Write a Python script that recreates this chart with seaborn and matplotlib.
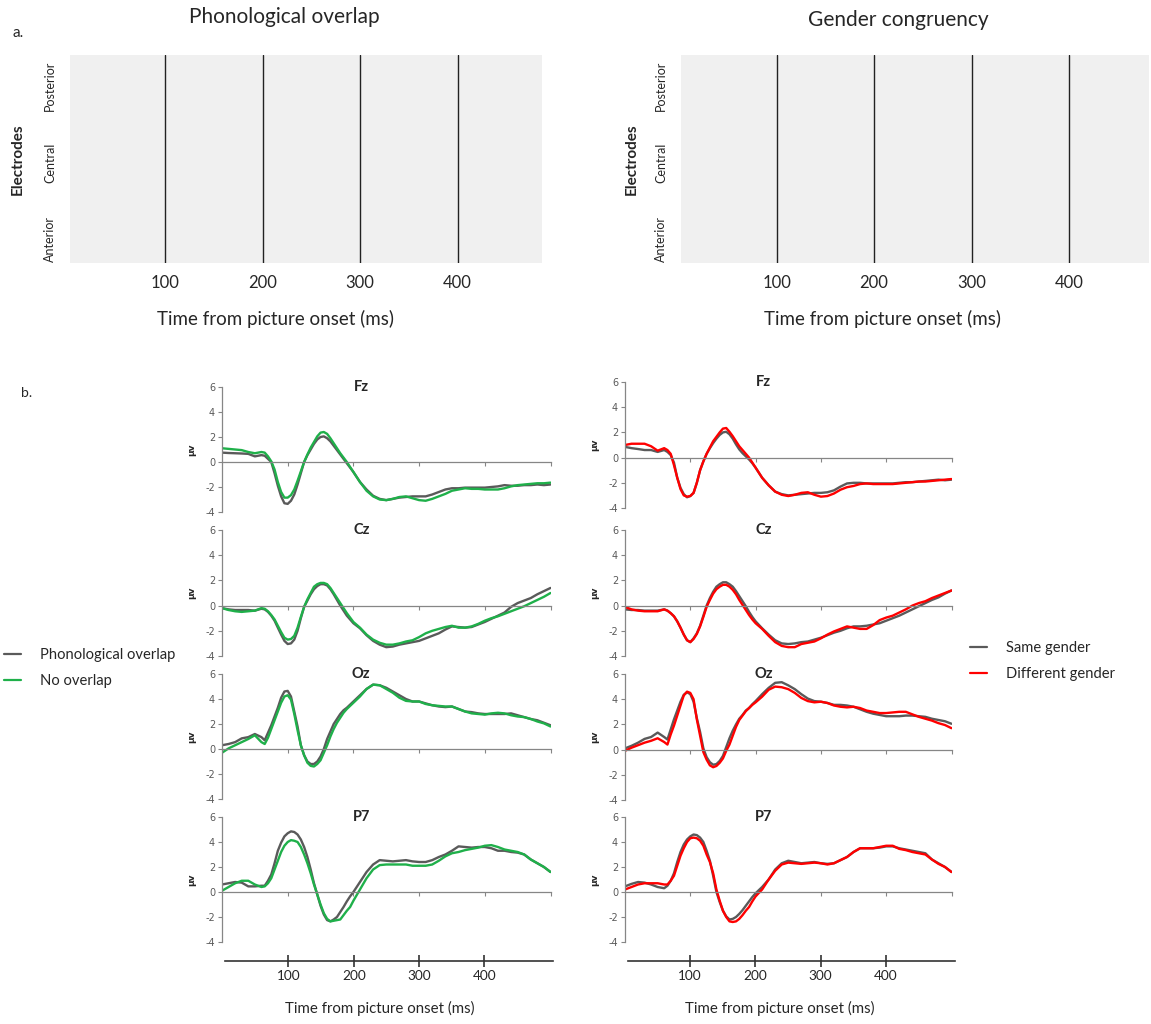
import seaborn as sns
import matplotlib.pyplot as plt
import pandas as pd
from matplotlib.lines import Line2D

# --- datos -------------------------------------------------------------
# cada 10 ms, y cada 5 ms entre 60 y 200 ms (donde la onda cambia rapido)
time_ms = list(range(0, 60, 10)) + list(range(60, 201, 5)) + list(range(210, 501, 10))
window_ticks = [100, 200, 300, 400]
regions = ["Anterior", "Central", "Posterior"]
electrodes = ["Fz", "Cz", "Oz", "P7"]

phon_labels = ["Phonological overlap", "No overlap"]
gender_labels = ["Same gender", "Different gender"]

# overlap fonologico (izquierda)
fz_phon = [0.75, 0.72, 0.7, 0.68, 0.65, 0.45,
           0.55, 0.5, 0.25, 0.0, -0.9, -1.9, -2.75, -3.3, -3.35, -3.1, -2.6, -1.8, -0.9, 0.0, 0.55, 1.0, 1.45, 1.8,
           2.0, 2.05, 1.9, 1.65, 1.3, 0.95, 0.6, 0.25, -0.1, -0.45, -0.8,
           -1.6, -2.2, -2.7, -2.95, -3.05, -2.95, -2.85, -2.8, -2.75, -2.75, -2.75, -2.6, -2.4, -2.2, -2.1, -2.1,
           -2.05, -2.05, -2.05, -2.05, -2.0, -1.95, -1.85, -1.9, -1.9, -1.85, -1.85, -1.8, -1.85, -1.8]
fz_noov = [1.1, 1.05, 1.0, 0.95, 0.8, 0.7,
           0.8, 0.75, 0.45, 0.05, -0.6, -1.6, -2.4, -2.85, -2.85, -2.65, -2.2, -1.5, -0.75, 0.0, 0.6, 1.15, 1.6, 2.05,
           2.35, 2.4, 2.25, 1.9, 1.5, 1.1, 0.7, 0.35, 0.0, -0.4, -0.8,
           -1.6, -2.3, -2.75, -3.0, -3.05, -2.95, -2.8, -2.75, -2.9, -3.05, -3.1, -2.95, -2.75, -2.55, -2.3, -2.2,
           -2.1, -2.15, -2.15, -2.2, -2.2, -2.2, -2.1, -1.95, -1.85, -1.8, -1.75, -1.7, -1.7, -1.65]
cz_phon = [-0.2, -0.3, -0.35, -0.35, -0.35, -0.4,
           -0.25, -0.3, -0.5, -0.8, -1.2, -1.75, -2.3, -2.8, -3.05, -3.0, -2.7, -2.0, -1.0, -0.1, 0.4, 0.9, 1.3, 1.55,
           1.7, 1.7, 1.6, 1.3, 0.9, 0.45, 0.0, -0.4, -0.8, -1.1, -1.4,
           -1.8, -2.35, -2.8, -3.1, -3.3, -3.25, -3.1, -3.0, -2.9, -2.8, -2.6, -2.4, -2.2, -1.9, -1.65, -1.7, -1.75,
           -1.7, -1.5, -1.3, -1.05, -0.8, -0.55, -0.1, 0.2, 0.4, 0.6, 0.9, 1.15, 1.4]
cz_noov = [-0.2, -0.35, -0.45, -0.5, -0.45, -0.4,
           -0.2, -0.25, -0.45, -0.75, -1.1, -1.6, -2.1, -2.55, -2.7, -2.65, -2.4, -1.75, -0.9, -0.1, 0.5, 1.0, 1.5, 1.7,
           1.8, 1.8, 1.7, 1.4, 1.0, 0.6, 0.2, -0.2, -0.6, -0.95, -1.3,
           -1.75, -2.3, -2.7, -2.95, -3.1, -3.1, -3.0, -2.85, -2.75, -2.5, -2.2, -2.0, -1.85, -1.7, -1.6, -1.75, -1.75,
           -1.65, -1.45, -1.2, -1.0, -0.85, -0.65, -0.45, -0.25, -0.05, 0.2, 0.45, 0.7, 1.0]
oz_phon = [0.3, 0.4, 0.55, 0.85, 0.95, 1.2,
           0.95, 0.7, 1.3, 1.9, 2.6, 3.3, 4.1, 4.6, 4.65, 4.2, 3.0, 1.8, 0.3, -0.5, -1.0, -1.2, -1.2, -1.0, -0.6, 0.0,
           0.8, 1.4, 2.0, 2.4, 2.8, 3.1, 3.3, 3.55, 3.8,
           4.3, 4.8, 5.15, 5.1, 4.9, 4.6, 4.3, 4.0, 3.8, 3.8, 3.65, 3.5, 3.4, 3.35, 3.4, 3.2, 3.0, 2.95, 2.85, 2.8,
           2.8, 2.8, 2.8, 2.85, 2.7, 2.55, 2.4, 2.3, 2.1, 1.9]
oz_noov = [-0.3, 0.05, 0.3, 0.55, 0.8, 1.1,
           0.55, 0.4, 0.9, 1.6, 2.3, 3.0, 3.7, 4.2, 4.3, 3.95, 2.8, 1.5, 0.3, -0.5, -1.1, -1.35, -1.4, -1.2, -0.9,
           -0.3, 0.3, 1.0, 1.6, 2.1, 2.5, 2.9, 3.2, 3.45, 3.7,
           4.2, 4.8, 5.15, 5.1, 4.8, 4.5, 4.1, 3.85, 3.8, 3.8, 3.6, 3.5, 3.45, 3.4, 3.4, 3.2, 3.0, 2.85, 2.8, 2.75,
           2.85, 2.9, 2.85, 2.7, 2.6, 2.55, 2.4, 2.2, 2.05, 1.8]
p7_phon = [0.6, 0.7, 0.8, 0.75, 0.45, 0.45,
           0.5, 0.5, 0.9, 1.4, 2.3, 3.3, 3.95, 4.45, 4.7, 4.85, 4.8, 4.6, 4.2, 3.6, 2.8, 1.8, 0.7, -0.2, -1.1, -1.8,
           -2.25, -2.35, -2.2, -2.0, -1.6, -1.2, -0.75, -0.35, 0.0,
           0.8, 1.6, 2.2, 2.55, 2.5, 2.45, 2.5, 2.55, 2.45, 2.4, 2.4, 2.55, 2.8, 3.0, 3.3, 3.65, 3.6, 3.55, 3.6, 3.6,
           3.5, 3.3, 3.3, 3.2, 3.15, 3.0, 2.6, 2.3, 2.0, 1.6]
p7_noov = [0.1, 0.4, 0.7, 0.9, 0.9, 0.6,
           0.4, 0.45, 0.7, 1.1, 1.8, 2.5, 3.2, 3.7, 4.0, 4.15, 4.1, 4.0, 3.6, 3.0, 2.3, 1.5, 0.6, -0.2, -1.0, -1.7,
           -2.15, -2.35, -2.3, -2.25, -2.2, -1.85, -1.5, -1.2, -0.7,
           0.2, 1.1, 1.8, 2.15, 2.2, 2.2, 2.2, 2.2, 2.1, 2.1, 2.1, 2.2, 2.5, 2.85, 3.1, 3.2, 3.35, 3.45, 3.55, 3.7,
           3.75, 3.6, 3.4, 3.3, 3.2, 3.0, 2.6, 2.3, 2.0, 1.6]

# congruencia de genero (derecha)
fz_same = [0.85, 0.75, 0.68, 0.6, 0.6, 0.45,
           0.6, 0.45, 0.2, -0.4, -1.6, -2.4, -2.9, -3.15, -3.05, -2.8, -2.0, -1.0, -0.3, 0.3, 0.75, 1.15, 1.5, 1.8,
           2.0, 2.05, 1.85, 1.5, 1.05, 0.65, 0.35, 0.1, -0.15, -0.45, -0.8,
           -1.6, -2.2, -2.7, -2.9, -3.0, -2.95, -2.9, -2.85, -2.8, -2.8, -2.75, -2.6, -2.3, -2.05, -2.0, -2.0, -2.05,
           -2.05, -2.05, -2.05, -2.05, -2.0, -1.95, -1.95, -1.9, -1.85, -1.8, -1.75, -1.8, -1.75]
fz_diff = [1.0, 1.1, 1.1, 1.1, 0.9, 0.55,
           0.75, 0.6, 0.3, -0.6, -1.6, -2.5, -3.0, -3.1, -3.05, -2.8, -2.0, -1.0, -0.3, 0.3, 0.8, 1.3, 1.65, 2.0,
           2.3, 2.35, 2.05, 1.7, 1.3, 0.9, 0.6, 0.3, 0.0, -0.4, -0.8,
           -1.6, -2.2, -2.7, -2.95, -3.05, -2.95, -2.8, -2.75, -2.95, -3.1, -3.05, -2.85, -2.55, -2.35, -2.25, -2.1,
           -2.05, -2.1, -2.1, -2.1, -2.1, -2.05, -2.0, -1.95, -1.9, -1.9, -1.85, -1.8, -1.75, -1.7]
cz_same = [-0.3, -0.35, -0.35, -0.4, -0.4, -0.4,
           -0.3, -0.4, -0.6, -0.85, -1.25, -1.75, -2.3, -2.75, -2.9, -2.6, -2.2, -1.6, -0.8, 0.0, 0.6, 1.1, 1.5, 1.7,
           1.85, 1.85, 1.7, 1.5, 1.15, 0.75, 0.35, -0.05, -0.5, -0.9, -1.25,
           -1.8, -2.3, -2.75, -3.0, -3.05, -3.0, -2.9, -2.85, -2.7, -2.55, -2.35, -2.15, -2.0, -1.8, -1.65, -1.65,
           -1.6, -1.5, -1.4, -1.2, -1.0, -0.8, -0.55, -0.3, -0.05, 0.2, 0.45, 0.65, 0.95, 1.2]
cz_diff = [-0.1, -0.3, -0.4, -0.45, -0.45, -0.45,
           -0.3, -0.4, -0.6, -0.85, -1.25, -1.75, -2.3, -2.75, -2.9, -2.65, -2.25, -1.65, -0.9, -0.1, 0.45, 0.95, 1.3,
           1.5, 1.65, 1.65, 1.5, 1.25, 0.9, 0.45, 0.05, -0.35, -0.75, -1.1, -1.4,
           -1.85, -2.4, -2.9, -3.2, -3.3, -3.3, -3.05, -2.95, -2.85, -2.6, -2.3, -2.05, -1.85, -1.65, -1.75, -1.85,
           -1.85, -1.55, -1.15, -0.95, -0.8, -0.55, -0.3, 0.0, 0.2, 0.35, 0.6, 0.8, 1.0, 1.2]
oz_same = [0.1, 0.3, 0.55, 0.85, 1.0, 1.35,
           1.0, 0.8, 1.6, 2.4, 3.1, 3.8, 4.35, 4.55, 4.4, 3.8, 2.5, 1.4, 0.1, -0.6, -1.0, -1.2, -1.15, -0.9, -0.5,
           0.2, 0.9, 1.5, 2.0, 2.45, 2.75, 3.1, 3.3, 3.6, 3.85,
           4.4, 4.9, 5.3, 5.35, 5.1, 4.8, 4.4, 4.05, 3.85, 3.8, 3.7, 3.55, 3.55, 3.5, 3.4, 3.2, 3.0, 2.85, 2.75, 2.65,
           2.65, 2.65, 2.7, 2.7, 2.65, 2.6, 2.45, 2.35, 2.25, 2.05]
oz_diff = [-0.1, 0.15, 0.35, 0.55, 0.7, 0.9,
           0.6, 0.4, 1.2, 1.9, 2.7, 3.5, 4.3, 4.6, 4.5, 4.0, 2.4, 1.1, -0.2, -0.8, -1.25, -1.4, -1.3, -1.05, -0.7,
           -0.1, 0.4, 1.1, 1.8, 2.35, 2.7, 3.05, 3.3, 3.55, 3.75,
           4.2, 4.75, 5.0, 4.95, 4.8, 4.5, 4.1, 3.85, 3.75, 3.8, 3.7, 3.5, 3.4, 3.35, 3.4, 3.3, 3.1, 3.0, 2.9, 2.9,
           2.95, 3.0, 3.0, 2.8, 2.6, 2.45, 2.3, 2.1, 1.95, 1.7]
p7_same = [0.45, 0.65, 0.8, 0.75, 0.6, 0.4,
           0.3, 0.5, 0.9, 1.5, 2.4, 3.2, 3.8, 4.2, 4.45, 4.6, 4.55, 4.35, 4.0, 3.3, 2.5, 1.3, 0.0, -0.8, -1.5, -1.95,
           -2.2, -2.15, -2.0, -1.75, -1.45, -1.1, -0.75, -0.4, -0.1,
           0.4, 1.0, 1.8, 2.3, 2.5, 2.4, 2.3, 2.35, 2.4, 2.3, 2.25, 2.3, 2.55, 2.8, 3.2, 3.5, 3.5, 3.5, 3.55, 3.65,
           3.65, 3.5, 3.4, 3.3, 3.2, 3.1, 2.6, 2.3, 2.0, 1.6]
p7_diff = [0.2, 0.4, 0.6, 0.7, 0.7, 0.7,
           0.6, 0.6, 0.9, 1.3, 2.1, 2.9, 3.5, 4.0, 4.3, 4.35, 4.3, 4.1, 3.7, 3.0, 2.4, 1.5, 0.2, -0.7, -1.5, -2.0,
           -2.35, -2.4, -2.35, -2.15, -1.85, -1.5, -1.2, -0.75, -0.35,
           0.2, 1.0, 1.7, 2.2, 2.35, 2.3, 2.25, 2.3, 2.35, 2.3, 2.2, 2.3, 2.55, 2.8, 3.2, 3.5, 3.5, 3.5, 3.6, 3.7,
           3.7, 3.45, 3.35, 3.2, 3.1, 3.0, 2.6, 2.25, 2.0, 1.6]

left_series = {"Fz": (fz_phon, fz_noov), "Cz": (cz_phon, cz_noov), "Oz": (oz_phon, oz_noov), "P7": (p7_phon, p7_noov)}
right_series = {"Fz": (fz_same, fz_diff), "Cz": (cz_same, cz_diff), "Oz": (oz_same, oz_diff), "P7": (p7_same, p7_diff)}

for d in (left_series, right_series):
    for k, (a, b) in d.items():
        assert len(a) == len(time_ms) and len(b) == len(time_ms), (k, len(a), len(b))

# --- estilo ------------------------------------------------------------
W, H = 1151, 1024
sns.set_style("white")
plt.rcParams['font.family'] = ['Lato', 'DejaVu Sans']

GRAY = "#5a5a5a"
GREEN = "#1fb04a"
RED = "#ff0000"
AXC = "#868686"


def box(x0, y0, x1, y1):
    # caja en pixeles (desde arriba) -> coordenadas de figura
    return [x0 / W, 1 - y1 / H, (x1 - x0) / W, (y1 - y0) / H]


fig = plt.figure(figsize=(W / 100, H / 100), dpi=100)

# --- a. ventanas de tiempo ---------------------------------------------
top_panels = [
    ("Phonological overlap", 70, 542, (2.5, 486.6), 0.453, 1.183, -0.095, 0.435),
    ("Gender congruency", 681, 1149, (2.0, 482.0), 0.465, 1.168, -0.091, 0.43),
]
for title, x0, x1, xl, tx, ty, elx, xlx in top_panels:
    ax = fig.add_axes(box(x0, 55, x1, 263))
    ax.set_facecolor("#f0f0f0")
    for s in ax.spines.values():
        s.set_visible(False)
    ax.set_xlim(xl)
    ax.set_ylim(0, 3)
    for t in window_ticks:
        ax.axvline(t, color="#222222", lw=1)
    ax.set_xticks(window_ticks)
    ax.set_xticklabels([str(t) for t in window_ticks], fontsize=12)
    ax.tick_params(axis="x", bottom=False, length=0, pad=9)
    ax.set_yticks([0.35, 1.45, 2.55])
    ax.set_yticklabels(regions, rotation=90, va="center", fontsize=9)
    ax.tick_params(axis="y", left=False, length=0, pad=10)
    ax.set_ylabel("Electrodes", fontweight="bold", fontsize=11)
    ax.yaxis.set_label_coords(elx, 0.5)
    ax.text(tx, ty, title, transform=ax.transAxes, ha="center", va="center", fontsize=15)
    ax.text(xlx, -0.27, "Time from picture onset (ms)", transform=ax.transAxes,
            ha="center", va="center", fontsize=13.5)

fig.text(18 / W, 1 - 33 / H, "a.", fontsize=11, ha="center", va="center")
fig.text(27 / W, 1 - 393 / H, "b.", fontsize=10, ha="center", va="center")

# --- b. ERPs -----------------------------------------------------------
columns = [
    (222, 550.5, [(387, 512), (530, 656), (674, 799), (817, 942)], left_series, phon_labels, [GRAY, GREEN]),
    (625, 951.5, [(382, 508), (530, 656), (674, 800), (817, 942)], right_series, gender_labels, [GRAY, RED]),
]
for x0, x1, rows, series, labels, colors in columns:
    for name, (ytop, ybot) in zip(electrodes, rows):
        a, b = series[name]
        df = pd.DataFrame({
            "time": time_ms * 2,
            "uv": a + b,
            "cond": [labels[0]] * len(time_ms) + [labels[1]] * len(time_ms),
        })
        ax = fig.add_axes(box(x0, ytop, x1, ybot))
        ax.patch.set_alpha(0)
        sns.lineplot(data=df, x="time", y="uv", hue="cond", hue_order=labels,
                     palette=dict(zip(labels, colors)), legend=False, ax=ax,
                     linewidth=1.7)
        ax.set_xlim(0, 500)
        ax.set_ylim(-4, 6)
        ax.spines["top"].set_visible(False)
        ax.spines["right"].set_visible(False)
        ax.spines["left"].set_color(AXC)
        ax.spines["left"].set_linewidth(0.9)
        ax.spines["bottom"].set_position(("data", 0))
        ax.spines["bottom"].set_color(AXC)
        ax.spines["bottom"].set_linewidth(0.9)
        ax.set_xticks([100, 200, 300, 400, 500])
        ax.set_xticklabels([])
        ax.tick_params(axis="x", bottom=True, length=3, color=AXC, direction="out")
        ax.set_yticks(range(-4, 7, 2))
        ax.set_yticklabels([str(v) for v in range(-4, 7, 2)], fontsize=7,
                           family="DejaVu Sans", color="#595959")
        ax.tick_params(axis="y", left=True, length=3, color=AXC, pad=2)
        ax.set_xlabel("")
        ax.set_ylabel("µv", fontsize=6.5, fontweight="bold", family=["DejaVu Sans"])
        ax.yaxis.set_label_coords(-0.078, 0.5)
        ax.text(212, 6, name, ha="center", va="center", fontsize=10.5, fontweight="bold")

# eje de tiempo inferior
for bx0, bx1, xl, lx in [(225, 553, (3, 505), 380), (628, 955, (5, 506), 780)]:
    axt = fig.add_axes(box(bx0, 955, bx1, 961))
    axt.patch.set_alpha(0)
    for s in ["top", "left", "right"]:
        axt.spines[s].set_visible(False)
    axt.spines["bottom"].set_color("#333333")
    axt.spines["bottom"].set_linewidth(1.2)
    axt.set_xlim(xl)
    axt.set_yticks([])
    axt.set_xticks(window_ticks)
    axt.set_xticklabels([str(t) for t in window_ticks], fontsize=9.8)
    axt.tick_params(axis="x", bottom=True, direction="inout", length=9, width=1.2,
                    color="#333333", pad=2)
    fig.text(lx / W, 1 - 1008 / H, "Time from picture onset (ms)", ha="center", va="center", fontsize=10.8)

# leyendas
leg_specs = [
    (phon_labels, [GRAY, GREEN], 4 / W, 668),
    (gender_labels, [GRAY, RED], 970 / W, 661),
]
for labels, colors, lx, ly in leg_specs:
    handles = [Line2D([0], [0], color=c, lw=1.6) for c in colors]
    fig.legend(handles, labels, loc="center left", bbox_to_anchor=(lx, 1 - ly / H),
               frameon=False, fontsize=10.6, handlelength=1.15, handletextpad=1.3,
               labelspacing=0.8, borderpad=0, borderaxespad=0)

fig.savefig("out.png", dpi=100)
